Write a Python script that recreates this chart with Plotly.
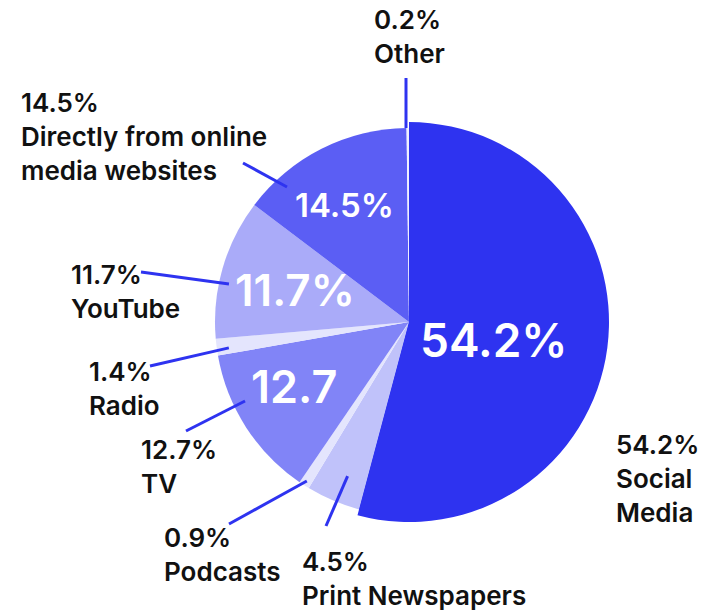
import math
import plotly.graph_objects as go

# Share of respondents by main news source (%)
categories = [
    "Social Media",
    "Print Newspapers",
    "Podcasts",
    "TV",
    "Radio",
    "YouTube",
    "Directly from online media websites",
    "Other",
]
values = [54.2, 4.5, 0.9, 12.7, 1.4, 11.7, 14.5, 0.2]
colors = ["#2e33f0", "#c0c2fa", "#e4e5fd", "#8184f7", "#e4e5fd", "#aaabf9", "#5b5ef4", "#eef0fe"]

# Wrapped display names for the outside labels
display_names = {
    "Social Media": "Social<br>Media",
    "Directly from online media websites": "Directly from online<br>media websites",
}

W, H = 703, 613
CX, CY = 409, 322          # pie centre in pixels
R_MAIN, R_BIG = 194, 200   # radius of pie, and of the emphasised first slice
ACCENT = "#2e33f0"
FONT = "Inter, Roboto, sans-serif"

# Inside labels: font size, radial fraction, angle nudge (deg), show % sign
inner_style = {
    "Social Media": (46, 0.45, 4.3, True),
    "TV": (45, 0.68, 3.3, False),
    "YouTube": (44, 0.61, -0.6, True),
    "Directly from online media websites": (33, 0.69, -1.9, True),
}

# Outside labels: left x, block centre y (px), leader line outer end (px),
# leader inner anchor angle nudge (deg) and radius (px)
outer_style = {
    "Other": ((372, 37), (406, 78), 0.0, 194),
    "Directly from online media websites": ((19, 136), (243, 163), -15.3, 182),
    "YouTube": ((69, 291), (141, 272), -4.2, 184),
    "Radio": ((87, 388), (150, 366), -0.7, 182),
    "TV": ((139, 466), (186, 431), 7.1, 182),
    "Podcasts": ((162, 554), (229, 524), 0.0, 189),
    "Print Newspapers": ((300, 578), (326, 526), -1.3, 166),
    "Social Media": ((614, 478), None, 0.0, 0),
}


def px(x):
    return x / W


def py(y):
    return 1 - y / H


def polar(angle_deg, r):
    a = math.radians(angle_deg)
    return CX + r * math.sin(a), CY - r * math.cos(a)


total = sum(values)
mid_angles = {}
acc = 0.0
for name, v in zip(categories, values):
    mid_angles[name] = (acc + v / 2) / total * 360
    acc += v


def domain(r):
    return dict(x=[px(CX - r), px(CX + r)], y=[py(CY + r), py(CY - r)])


fig = go.Figure()
fig.add_trace(go.Pie(
    labels=categories, values=values, sort=False, direction="clockwise", rotation=0,
    marker=dict(colors=colors, line=dict(width=0)),
    textinfo="none", hoverinfo="label+percent", showlegend=False,
    domain=domain(R_MAIN),
))
# First slice drawn again at a slightly larger radius
fig.add_trace(go.Pie(
    labels=categories, values=values, sort=False, direction="clockwise", rotation=0,
    marker=dict(colors=[colors[0]] + ["rgba(0,0,0,0)"] * (len(values) - 1), line=dict(width=0)),
    textinfo="none", hoverinfo="skip", showlegend=False,
    domain=domain(R_BIG),
))

annotations = []
shapes = []
for name, v in zip(categories, values):
    if name in inner_style:
        size, frac, nudge, pct = inner_style[name]
        x, y = polar(mid_angles[name] + nudge, frac * R_MAIN)
        annotations.append(dict(
            x=px(x), y=py(y), xref="paper", yref="paper", showarrow=False,
            text=f"{v:.1f}%" if pct else f"{v:.1f}",
            font=dict(family=FONT, size=size, color="white", weight=600),
            xanchor="center", yanchor="middle",
        ))
    (lx, ly), outer_end, nudge, rad = outer_style[name]
    annotations.append(dict(
        x=px(lx), y=py(ly), xref="paper", yref="paper", showarrow=False,
        text=f"{v:.1f}%<br>{display_names.get(name, name)}",
        font=dict(family=FONT, size=26, color="#111111", weight=600),
        xanchor="left", yanchor="middle", align="left",
    ))
    if outer_end is not None:
        ix, iy = polar(mid_angles[name] + nudge, rad)
        if name == "Other":
            ix = outer_end[0]
        shapes.append(dict(
            type="line", xref="paper", yref="paper",
            x0=px(outer_end[0]), y0=py(outer_end[1]), x1=px(ix), y1=py(iy),
            line=dict(color=ACCENT, width=3),
        ))

fig.update_layout(
    width=W, height=H,
    margin=dict(l=0, r=0, t=0, b=0),
    paper_bgcolor="white", plot_bgcolor="white",
    annotations=annotations, shapes=shapes,
)

fig.write_html("out.html")
